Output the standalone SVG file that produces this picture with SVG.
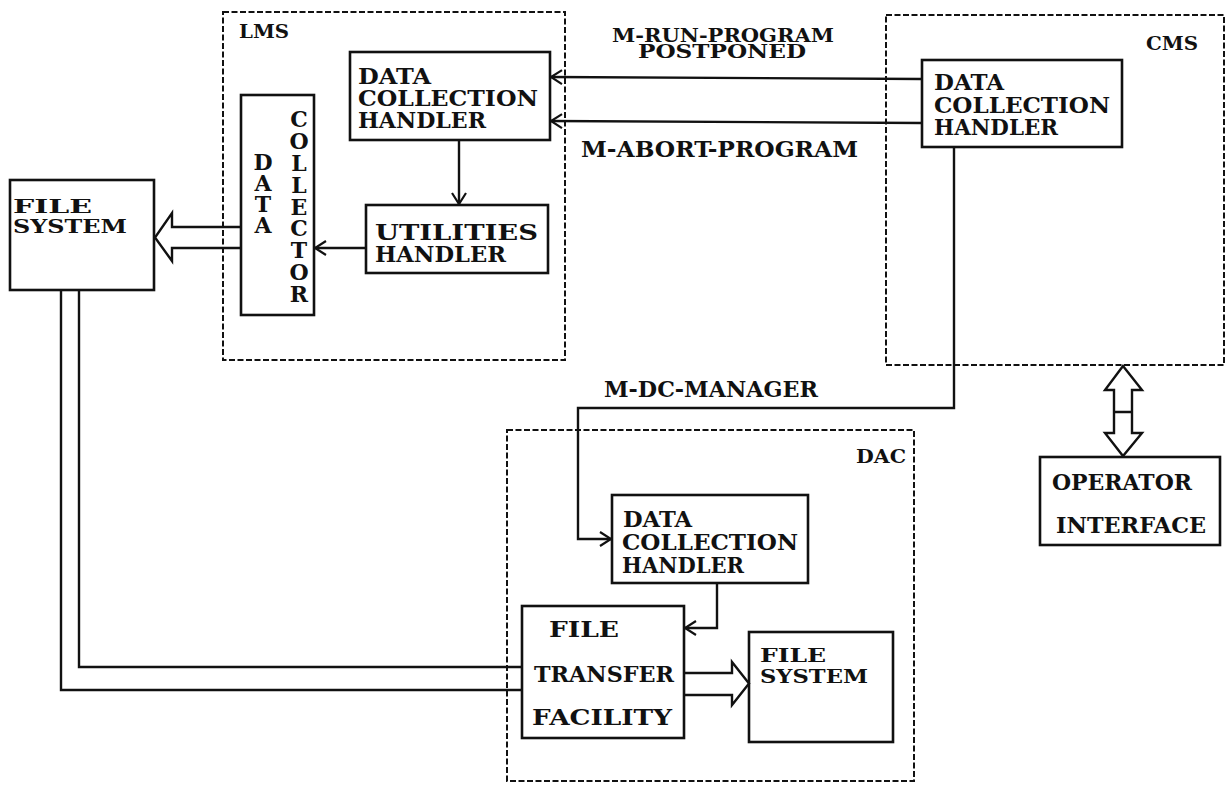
<svg xmlns="http://www.w3.org/2000/svg" width="1227" height="787" viewBox="0 0 1227 787">
<style>
.box{fill:none;stroke:#111;stroke-width:2.6}
.dash{fill:none;stroke:#111;stroke-width:2;stroke-dasharray:6 2.5}
.ln{fill:none;stroke:#111;stroke-width:2.4}
.t{font-family:"DejaVu Serif","Liberation Serif",serif;font-weight:bold;font-size:22px;fill:#111}
.s{font-family:"DejaVu Serif","Liberation Serif",serif;font-weight:bold;font-size:19px;fill:#111}
.v{font-family:"DejaVu Serif","Liberation Serif",serif;font-weight:bold;font-size:22px;fill:#111;text-anchor:middle}
</style>
<defs>
<marker id="ah" viewBox="-13 -8 15 16" refX="0" refY="0" markerWidth="15" markerHeight="16" markerUnits="userSpaceOnUse" orient="auto">
<path d="M-11,-7 L0,0 L-11,7" fill="none" stroke="#111" stroke-width="2.2"/>
</marker>
</defs>
<rect width="1227" height="787" fill="#fff"/>

<g id="lms">
<rect class="dash" x="223" y="12" width="342" height="348"/>
<text class="s" x="239" y="38" textLength="50" lengthAdjust="spacingAndGlyphs">LMS</text>
</g>
<g id="lms-dch">
<rect class="box" x="350" y="52" width="200" height="88"/>
<text class="t" x="358" y="84" textLength="73" lengthAdjust="spacingAndGlyphs">DATA</text>
<text class="t" x="358" y="106" textLength="180" lengthAdjust="spacingAndGlyphs">COLLECTION</text>
<text class="t" x="358" y="128" textLength="128" lengthAdjust="spacingAndGlyphs">HANDLER</text>
</g>
<g id="lms-uh">
<rect class="box" x="366" y="205" width="182" height="68"/>
<text class="t" x="375" y="240" textLength="163" lengthAdjust="spacingAndGlyphs">UTILITIES</text>
<text class="t" x="375" y="262" textLength="131" lengthAdjust="spacingAndGlyphs">HANDLER</text>
</g>
<g id="lms-dc">
<rect class="box" x="241" y="95" width="73" height="220"/>
<text class="v" x="263" y="170">D</text>
<text class="v" x="263" y="191">A</text>
<text class="v" x="263" y="212">T</text>
<text class="v" x="263" y="233">A</text>
<text class="v" x="299" y="127">C</text>
<text class="v" x="299" y="149">O</text>
<text class="v" x="299" y="171">L</text>
<text class="v" x="299" y="193">L</text>
<text class="v" x="299" y="215">E</text>
<text class="v" x="299" y="236">C</text>
<text class="v" x="299" y="258">T</text>
<text class="v" x="299" y="280">O</text>
<text class="v" x="299" y="302">R</text>
</g>
<g id="fs-left">
<rect class="box" x="10" y="180" width="144" height="110"/>
<text class="s" x="13" y="213" textLength="79" lengthAdjust="spacingAndGlyphs">FILE</text>
<text class="s" x="13" y="233" textLength="114" lengthAdjust="spacingAndGlyphs">SYSTEM</text>
</g>

<g id="cms">
<rect class="dash" x="886" y="15" width="338" height="350"/>
<text class="s" x="1146" y="50" textLength="52" lengthAdjust="spacingAndGlyphs">CMS</text>
</g>
<g id="cms-dch">
<rect class="box" x="922" y="60" width="200" height="87"/>
<text class="t" x="934" y="90" textLength="70" lengthAdjust="spacingAndGlyphs">DATA</text>
<text class="t" x="934" y="113" textLength="176" lengthAdjust="spacingAndGlyphs">COLLECTION</text>
<text class="t" x="934" y="135" textLength="124" lengthAdjust="spacingAndGlyphs">HANDLER</text>
</g>

<g id="dac">
<rect class="dash" x="507" y="430" width="407" height="351"/>
<text class="s" x="856" y="463" textLength="50" lengthAdjust="spacingAndGlyphs">DAC</text>
</g>
<g id="dac-dch">
<rect class="box" x="612" y="495" width="196" height="88"/>
<text class="t" x="623" y="527" textLength="69" lengthAdjust="spacingAndGlyphs">DATA</text>
<text class="t" x="622" y="550" textLength="176" lengthAdjust="spacingAndGlyphs">COLLECTION</text>
<text class="t" x="622" y="573" textLength="122" lengthAdjust="spacingAndGlyphs">HANDLER</text>
</g>
<g id="dac-ftf">
<rect class="box" x="522" y="606" width="162" height="132"/>
<text class="t" x="549" y="637" textLength="70" lengthAdjust="spacingAndGlyphs">FILE</text>
<text class="t" x="534" y="682" textLength="140" lengthAdjust="spacingAndGlyphs">TRANSFER</text>
<text class="t" x="532" y="725" textLength="140" lengthAdjust="spacingAndGlyphs">FACILITY</text>
</g>
<g id="dac-fs">
<rect class="box" x="749" y="632" width="144" height="110"/>
<text class="s" x="760" y="662" textLength="66" lengthAdjust="spacingAndGlyphs">FILE</text>
<text class="s" x="760" y="683" textLength="108" lengthAdjust="spacingAndGlyphs">SYSTEM</text>
</g>

<g id="operator">
<rect class="box" x="1040" y="457" width="180" height="88"/>
<text class="t" x="1052" y="490" textLength="140" lengthAdjust="spacingAndGlyphs">OPERATOR</text>
<text class="t" x="1056" y="533" textLength="150" lengthAdjust="spacingAndGlyphs">INTERFACE</text>
</g>

<g id="connectors">
<line class="ln" x1="922" y1="79" x2="551" y2="77" marker-end="url(#ah)"/>
<line class="ln" x1="922" y1="123" x2="551" y2="121" marker-end="url(#ah)"/>
<text class="s" x="612" y="42" textLength="222" lengthAdjust="spacingAndGlyphs">M-RUN-PROGRAM</text>
<text class="s" x="638" y="58" textLength="168" lengthAdjust="spacingAndGlyphs">POSTPONED</text>
<text class="t" x="581" y="157" textLength="277" lengthAdjust="spacingAndGlyphs">M-ABORT-PROGRAM</text>
<line class="ln" x1="459" y1="140" x2="459" y2="204" marker-end="url(#ah)"/>
<line class="ln" x1="366" y1="248" x2="315" y2="248" marker-end="url(#ah)"/>
<path class="ln" d="M241,227 H172 V213 L155,237.5 L172,261 V248 H241"/>
<path class="ln" d="M79,290 V667 H522"/>
<path class="ln" d="M61,290 V690 H522"/>
<path class="ln" d="M954,147 V408 H578 V539 H611" marker-end="url(#ah)"/>
<text class="t" x="604" y="397" textLength="214" lengthAdjust="spacingAndGlyphs">M-DC-MANAGER</text>
<path class="ln" d="M717,583 V628 H685" marker-end="url(#ah)"/>
<path class="ln" d="M684,673 H732 V662 L749,683.5 L732,705 V695 H684"/>
<path class="ln" d="M1114,390 H1105 L1123,366 L1142,390 H1132 V433 H1142 L1123,456 L1105,433 H1114 Z M1114,412 H1132"/>
</g>
</svg>
